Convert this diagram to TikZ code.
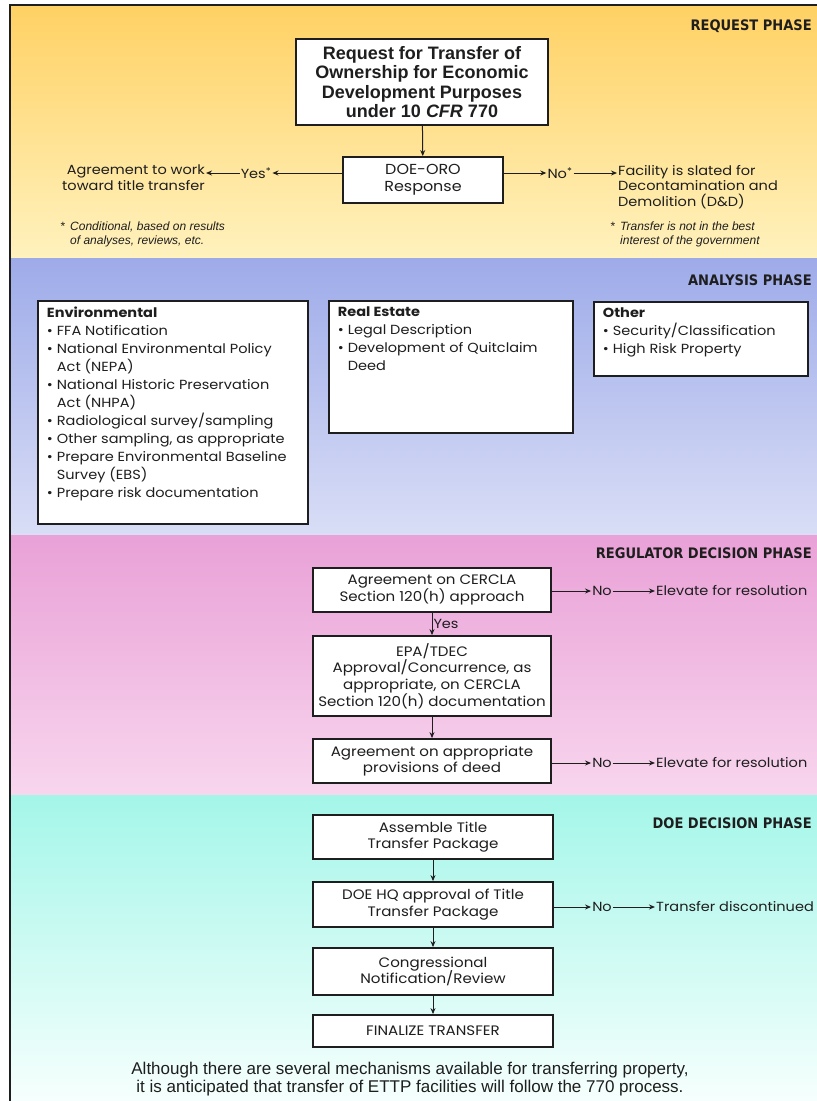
\documentclass[tikz,border=0pt]{standalone}
\usepackage{fontspec}
\setmainfont{Liberation Sans}
\newfontfamily\futura{Poppins}[FakeStretch=1.1]
\newfontfamily\phasefont{DejaVu Sans Condensed}
\usetikzlibrary{arrows.meta}

\definecolor{reqtop}{HTML}{FFD164}
\definecolor{reqbot}{HTML}{FFF2BE}
\definecolor{anatop}{HTML}{9EABE9}
\definecolor{anabot}{HTML}{D9DEF6}
\definecolor{regtop}{HTML}{E9A1D7}
\definecolor{regbot}{HTML}{F8D6EE}
\definecolor{doetop}{HTML}{A4F6E9}
\definecolor{doebot}{HTML}{F6FFFD}
\definecolor{ink}{HTML}{1E1E1E}

\newcommand{\bul}{\makebox[10pt][l]{\textbullet}}
\newcommand{\cont}{\hspace*{10pt}}

\begin{document}
\begin{tikzpicture}[x=1pt,y=-1pt,
  box/.style={draw=ink, line width=1.8pt, fill=white, text=ink, align=center, inner sep=2pt,
    font=\futura\fontsize{13.7}{16.7}\selectfont},
  listbox/.style={draw=ink, line width=1.8pt, fill=white, text=ink, anchor=north west,
    inner xsep=9pt, inner ysep=6pt, font=\futura\fontsize{13.2}{18}\selectfont},
  phase/.style={anchor=east, text=ink, inner sep=0pt, font=\phasefont\bfseries\fontsize{14.5}{16}\selectfont},
  side/.style={text=ink, inner sep=1pt, font=\futura\fontsize{13.2}{15.5}\selectfont},
  note/.style={text=ink, anchor=north west, align=left, inner sep=0pt, font=\itshape\fontsize{12}{13.5}\selectfont},
  arr/.style={-{Stealth[length=6pt,width=5pt]}, line width=1pt, draw=ink}]

\useasboundingbox (0,0) rectangle (817,1101);
% phase bands
\fill[top color=reqtop, bottom color=reqbot] (10,5) rectangle (817,258);
\fill[top color=anatop, bottom color=anabot] (10,258) rectangle (817,535);
\fill[top color=regtop, bottom color=regbot] (10,535) rectangle (817,795);
\fill[top color=doetop, bottom color=doebot] (10,795) rectangle (817,1101);
\draw[ink, line width=1.5pt] (10,1101) -- (10,5) -- (817,5);

% request phase
\node[phase] (reqlbl) at (812,26) {REQUEST PHASE};
\node[box, minimum width=252pt, minimum height=86pt, font=\bfseries\fontsize{18}{19.2}\selectfont] (req) at (422,82)
  {Request for Transfer of\\Ownership for Economic\\Development Purposes\\under 10 \textit{CFR} 770};
\node[box, minimum width=160pt, minimum height=46pt, font=\futura\fontsize{14.5}{16.5}\selectfont] (doe) at (423,180) {DOE-ORO\\Response};
\draw[arr] (req) -- (doe);

\node[side] (yes) at (256,173) {Yes\textsuperscript{*}};
\node[side, anchor=north east, align=right] (agree) at (206,164) {Agreement to work\\toward title transfer};
\draw[arr] (doe.west |- yes) -- (yes);
\draw[arr] (yes) -- (yes -| agree.east);

\node[side] (nostar) at (560,173) {No\textsuperscript{*}};
\node[side, anchor=north west, align=left] (facility) at (617,164) {Facility is slated for\\Decontamination and\\Demolition (D\&D)};
\draw[arr] (doe.east |- nostar) -- (nostar);
\draw[arr] (nostar) -- (nostar -| facility.west);

\node[note] (notel) at (60,222) {\makebox[10pt][l]{*}Conditional, based on results\\\cont of analyses, reviews, etc.};
\node[note] (noter) at (610,222) {\makebox[10pt][l]{*}Transfer is not in the best\\\cont interest of the government};

% analysis phase
\node[phase] (analbl) at (812,280) {ANALYSIS PHASE};
\node[listbox] (env) at (37,300) {\parbox[t][211pt][t]{252pt}{\raggedright
  {\bfseries Environmental}\\
  \bul FFA Notification\\
  \bul National Environmental Policy\\
  \cont Act (NEPA)\\
  \bul National Historic Preservation\\
  \cont Act (NHPA)\\
  \bul Radiological survey/sampling\\
  \bul Other sampling, as appropriate\\
  \bul Prepare Environmental Baseline\\
  \cont Survey (EBS)\\
  \bul Prepare risk documentation}};
\node[listbox] (estate) at (328,300) {\parbox[t][120pt][t]{226pt}{\raggedright
  {\bfseries Real Estate}\\
  \bul Legal Description\\
  \bul Development of Quitclaim\\
  \cont Deed}};
\node[listbox] (other) at (593,301) {\parbox[t][62pt][t]{196pt}{\raggedright
  {\bfseries Other}\\
  \bul Security/Classification\\
  \bul High Risk Property}};

% regulator decision phase
\node[phase] (reglbl) at (812,553) {REGULATOR DECISION PHASE};
\node[box, minimum width=238pt, minimum height=44pt] (cercla) at (432,590) {Agreement on CERCLA\\Section 120(h) approach};
\node[box, minimum width=238pt, minimum height=80pt] (epa) at (432,676)
  {EPA/TDEC\\Approval/Concurrence, as\\appropriate, on CERCLA\\Section 120(h) documentation};
\node[box, minimum width=238pt, minimum height=44pt] (deed) at (432,761) {Agreement on appropriate\\provisions of deed};
\draw[arr] (cercla) -- (epa) node[side, midway, anchor=west] (yeslbl) {Yes};
\draw[arr] (epa) -- (deed);

\node[side] (noa) at (602,591) {No};
\node[side, anchor=west] (elevatea) at (655,591) {Elevate for resolution};
\draw[arr] (cercla.east |- noa) -- (noa);
\draw[arr] (noa) -- (elevatea);
\node[side] (nob) at (602,763) {No};
\node[side, anchor=west] (elevateb) at (655,763) {Elevate for resolution};
\draw[arr] (deed.east |- nob) -- (nob);
\draw[arr] (nob) -- (elevateb);

% DOE decision phase
\node[phase] (doelbl) at (812,823) {DOE DECISION PHASE};
\node[box, minimum width=240pt, minimum height=44pt] (assemble) at (433,837) {Assemble Title\\Transfer Package};
\node[box, minimum width=240pt, minimum height=45pt] (hq) at (433,904.5) {DOE HQ approval of Title\\Transfer Package};
\node[box, minimum width=240pt, minimum height=47pt] (congress) at (433,971.5) {Congressional\\Notification/Review};
\node[box, minimum width=240pt, minimum height=32pt] (final) at (433,1031) {FINALIZE TRANSFER};
\draw[arr] (assemble) -- (hq);
\draw[arr] (hq) -- (congress);
\draw[arr] (congress) -- (final);

\node[side] (noc) at (602,907) {No};
\node[side, anchor=west] (discont) at (655,907) {Transfer discontinued};
\draw[arr] (hq.east |- noc) -- (noc);
\draw[arr] (noc) -- (discont);

\node[text=ink, align=center, font=\fontsize{17}{17.5}\selectfont] (footer) at (410,1079)
  {Although there are several mechanisms available for transferring property,\\it is anticipated that transfer of ETTP facilities will follow the 770 process.};
\end{tikzpicture}
\end{document}
